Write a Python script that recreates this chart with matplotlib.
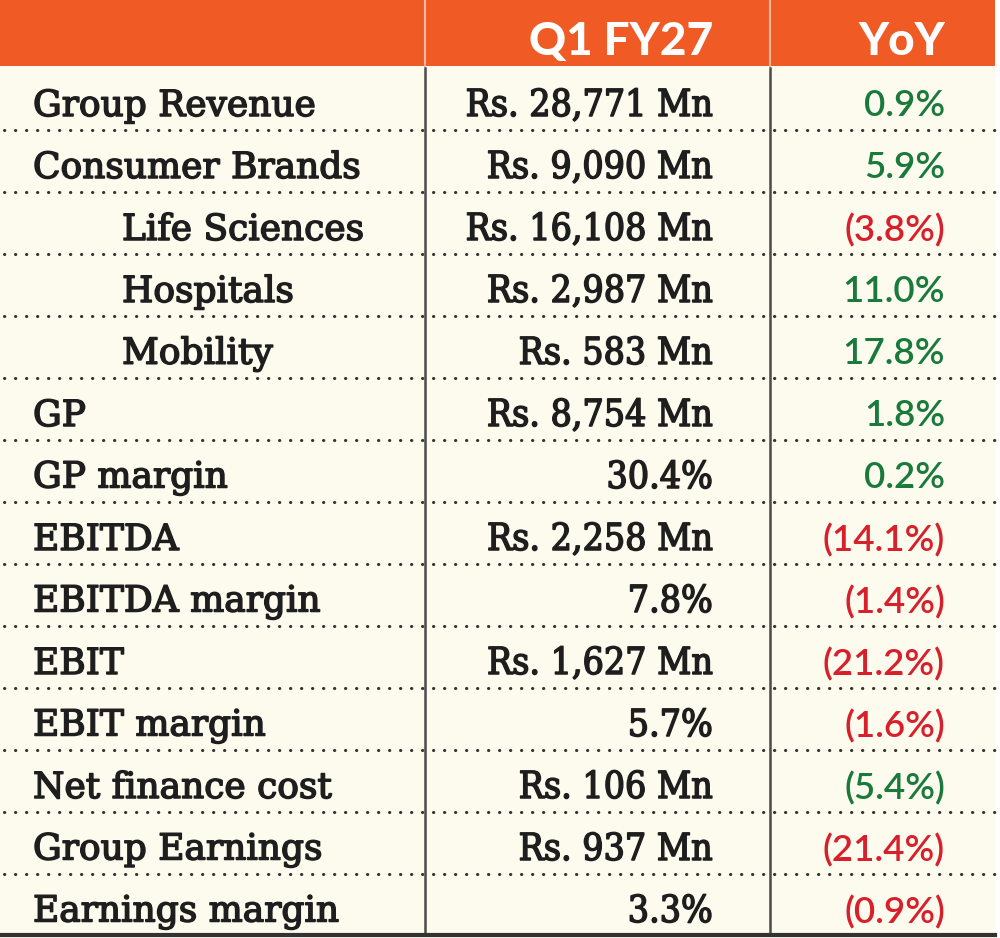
import matplotlib
matplotlib.use("Agg")
import matplotlib.pyplot as plt
import matplotlib.patheffects as pe
from matplotlib.patches import Rectangle

headers = ["", "Q1 FY27", "YoY"]
labels = ["Group Revenue", "Consumer Brands", "Life Sciences", "Hospitals", "Mobility",
          "GP", "GP margin", "EBITDA", "EBITDA margin", "EBIT", "EBIT margin",
          "Net finance cost", "Group Earnings", "Earnings margin"]
indent = [False, False, True, True, True, False, False, False, False, False, False,
          False, False, False]
q1_values = ["Rs. 28,771 Mn", "Rs. 9,090 Mn", "Rs. 16,108 Mn", "Rs. 2,987 Mn", "Rs. 583 Mn",
             "Rs. 8,754 Mn", "30.4%", "Rs. 2,258 Mn", "7.8%", "Rs. 1,627 Mn", "5.7%",
             "Rs. 106 Mn", "Rs. 937 Mn", "3.3%"]
yoy_values = ["0.9%", "5.9%", "(3.8%)", "11.0%", "17.8%", "1.8%", "0.2%", "(14.1%)",
              "(1.4%)", "(21.2%)", "(1.6%)", "(5.4%)", "(21.4%)", "(0.9%)"]
yoy_positive = [True, True, False, True, True, True, True, False, False, False, False,
                True, False, False]

ORANGE = "#F05A25"
CREAM = "#FDFBEE"
GREEN = "#1A7A3C"
RED = "#D8202C"
INK = "#1E1E1E"

W, H = 1000, 938
fig = plt.figure(figsize=(W / 100, H / 100), dpi=100)
fig.patch.set_facecolor(CREAM)
ax = fig.add_axes([0, 0, 1, 1])
ax.set_xlim(0, W)
ax.set_ylim(H, 0)
ax.axis("off")

header_h = 66
row_h = 62
top = 68
col1_x, col2_x = 425, 770
right_edge = 995

ax.add_patch(Rectangle((0, 0), right_edge, header_h, facecolor=ORANGE, edgecolor="none"))
ax.add_patch(Rectangle((right_edge, 0), W - right_edge, H, facecolor="white", edgecolor="none"))
ax.plot([col1_x, col1_x], [0, header_h], color="#F6B9A0", lw=1.5)
ax.plot([col2_x, col2_x], [0, header_h], color="#F6B9A0", lw=1.5)

hfont = dict(family="Lato", weight="black", color="white", fontsize=33, va="center")
ax.text(713, 42, headers[1], ha="right", **hfont)
ax.text(945, 42, headers[2], ha="right", **hfont)

thick = [pe.withStroke(linewidth=1.1, foreground=INK)]
n = len(labels)
for i in range(n):
    yc = top + row_h * i + row_h / 2 + 7
    x0 = 122 if indent[i] else 33
    ax.text(x0, yc, labels[i], ha="left", va="center", family="DejaVu Serif",
            fontsize=25.9, color=INK, path_effects=thick)
    ax.text(713, yc, q1_values[i], ha="right", va="center", family="DejaVu Serif",
            fontsize=26.8, color=INK, fontstretch="condensed", path_effects=thick)
    ax.text(945, yc, yoy_values[i], ha="right", va="center", family="Lato",
            fontsize=26.5, weight="semibold", color=GREEN if yoy_positive[i] else RED)
    if i < n - 1:
        yl = top + row_h * (i + 1)
        ax.plot([4, right_edge], [yl, yl], color="#333333", lw=2.2,
                linestyle=(0, (0.1, 3.5)), dash_capstyle="round")

ax.plot([col1_x, col1_x], [header_h + 2, H - 4], color="#4A4A4A", lw=1.8)
ax.plot([col2_x, col2_x], [header_h + 2, H - 4], color="#4A4A4A", lw=1.8)
ax.plot([0, right_edge], [H - 3, H - 3], color="#333333", lw=3)

fig.savefig("out.png", dpi=100, facecolor=CREAM)
